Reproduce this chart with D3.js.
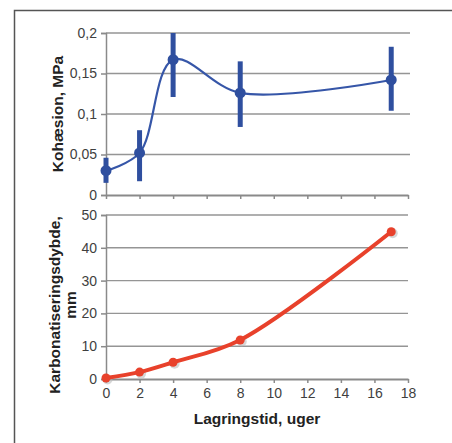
<!DOCTYPE html>
<html>
<head>
<meta charset="utf-8">
<script src="https://cdn.jsdelivr.net/npm/d3@7"></script>
<style>
	body { margin: 0; background: #fff; }
	text { font-family: Arial, "Liberation Sans", sans-serif; }
	.tick-label { font-size: 14px; fill: #3f3f3f; }
	.axis-title { font-size: 15.5px; font-weight: bold; fill: #222; }
</style>
</head>
<body>
<div id="chart"></div>
<script>
// storage time in weeks (shared by both panels)
const weeks = [0, 2, 4, 8, 17];

// cohesion, MPa, with error bar ends
const cohesion = [0.030, 0.052, 0.167, 0.126, 0.142];
const cohesionLow = [0.015, 0.017, 0.121, 0.084, 0.104];
const cohesionHigh = [0.046, 0.080, 0.200, 0.165, 0.183];

// carbonation depth, mm
const depth = [0.3, 2.1, 5.1, 11.9, 44.9];

const xTicks = [0, 2, 4, 6, 8, 10, 12, 14, 16, 18];
const topTicks = [0, 0.05, 0.1, 0.15, 0.2];
const topTickLabels = ['0', '0,05', '0,1', '0,15', '0,2'];
const bottomTicks = [0, 10, 20, 30, 40, 50];

const width = 452, height = 443;

const svg = d3.select('#chart').append('svg')
	.attr('width', width)
	.attr('height', height);

// frame (only top and left edges show)
svg.append('path')
	.attr('d', `M14.5,${height} V10.5 H${width}`)
	.attr('fill', 'none')
	.attr('stroke', '#555')
	.attr('stroke-width', 1.5);

const x = d3.scaleLinear().domain([0, 18]).range([106, 408]);
const yTop = d3.scaleLinear().domain([0, 0.2]).range([195, 33]);
const yBot = d3.scaleLinear().domain([0, 50]).range([379, 215]);

function drawFrame(y, ticks, labels, gridRight) {
	const g = svg.append('g');
	// gridlines
	g.selectAll('.grid')
		.data(ticks.slice(1))
		.join('line')
		.attr('x1', x(0)).attr('x2', gridRight)
		.attr('y1', d => y(d)).attr('y2', d => y(d))
		.attr('stroke', '#959595').attr('stroke-width', 1.4);

	// y axis
	const yAxis = d3.axisLeft(y).tickValues(ticks).tickSize(5).tickPadding(4)
		.tickFormat((d, i) => labels ? labels[i] : d);
	const yg = g.append('g').attr('transform', `translate(${x(0)},0)`).call(yAxis);
	yg.attr('font-size', null).attr('font-family', null);
	yg.select('.domain').attr('stroke', '#8a8a8a').attr('stroke-width', 1.5);
	yg.selectAll('.tick line').attr('stroke', '#8a8a8a').attr('stroke-width', 1.5);
	yg.selectAll('.tick text').attr('class', 'tick-label');

	// x axis
	const xAxis = d3.axisBottom(x).tickValues(xTicks).tickSize(4).tickPadding(5).tickSizeOuter(0);
	const xg = g.append('g').attr('transform', `translate(0,${y(0)})`).call(xAxis);
	xg.attr('font-size', null).attr('font-family', null);
	xg.select('.domain').attr('stroke', '#8a8a8a').attr('stroke-width', 1.8);
	xg.selectAll('.tick line').attr('stroke', '#8a8a8a').attr('stroke-width', 1.5);
	xg.selectAll('.tick text').attr('class', 'tick-label');
	return xg;
}

// top panel: cohesion
const topX = drawFrame(yTop, topTicks, topTickLabels, 410);
topX.selectAll('.tick text').remove();

const blue = '#2f4f9f';
const topData = weeks.map((w, i) => ({ w, v: cohesion[i], lo: cohesionLow[i], hi: cohesionHigh[i] }));

svg.append('path')
	.datum(topData)
	.attr('fill', 'none')
	.attr('stroke', '#3656a8')
	.attr('stroke-width', 2.2)
	.attr('d', d3.line().x(d => x(d.w)).y(d => yTop(d.v)).curve(d3.curveCatmullRom));

svg.selectAll('.errbar')
	.data(topData)
	.join('line')
	.attr('x1', d => x(d.w)).attr('x2', d => x(d.w))
	.attr('y1', d => yTop(d.lo)).attr('y2', d => yTop(d.hi))
	.attr('stroke', blue)
	.attr('stroke-width', 5);

svg.selectAll('.topdot')
	.data(topData)
	.join('circle')
	.attr('cx', d => x(d.w)).attr('cy', d => yTop(d.v))
	.attr('r', 5.5)
	.attr('fill', blue);

svg.append('text')
	.attr('class', 'axis-title')
	.attr('text-anchor', 'middle')
	.attr('transform', `translate(63,${(yTop(0) + yTop(0.2)) / 2}) rotate(-90)`)
	.text('Kohæsion, MPa');

// bottom panel: carbonation depth
drawFrame(yBot, bottomTicks, null, 408);

const red = '#e8412b';
const botData = weeks.map((w, i) => ({ w, v: depth[i] }));

svg.selectAll('.shadow')
	.data(botData)
	.join('circle')
	.attr('cx', d => x(d.w) + 1.5).attr('cy', d => yBot(d.v) + 1.5)
	.attr('r', 5)
	.attr('fill', '#bbb')
	.attr('opacity', 0.6);

svg.append('path')
	.datum(botData)
	.attr('fill', 'none')
	.attr('stroke', red)
	.attr('stroke-width', 4)
	.attr('stroke-linecap', 'round')
	.attr('d', d3.line().x(d => x(d.w)).y(d => yBot(d.v)).curve(d3.curveCatmullRom));

svg.selectAll('.botdot')
	.data(botData)
	.join('circle')
	.attr('cx', d => x(d.w)).attr('cy', d => yBot(d.v))
	.attr('r', 4.5)
	.attr('fill', red);

const botTitle = svg.append('text')
	.attr('class', 'axis-title')
	.attr('text-anchor', 'middle')
	.attr('transform', `translate(60,305) rotate(-90)`);
botTitle.append('tspan').attr('x', 0).attr('dy', 0).text('Karbonatiseringsdybde,');
botTitle.append('tspan').attr('x', 0).attr('dy', 16).text('mm');

svg.append('text')
	.attr('class', 'axis-title')
	.attr('text-anchor', 'middle')
	.attr('x', (x(0) + x(18)) / 2)
	.attr('y', 424)
	.text('Lagringstid, uger');
</script>
</body>
</html>
